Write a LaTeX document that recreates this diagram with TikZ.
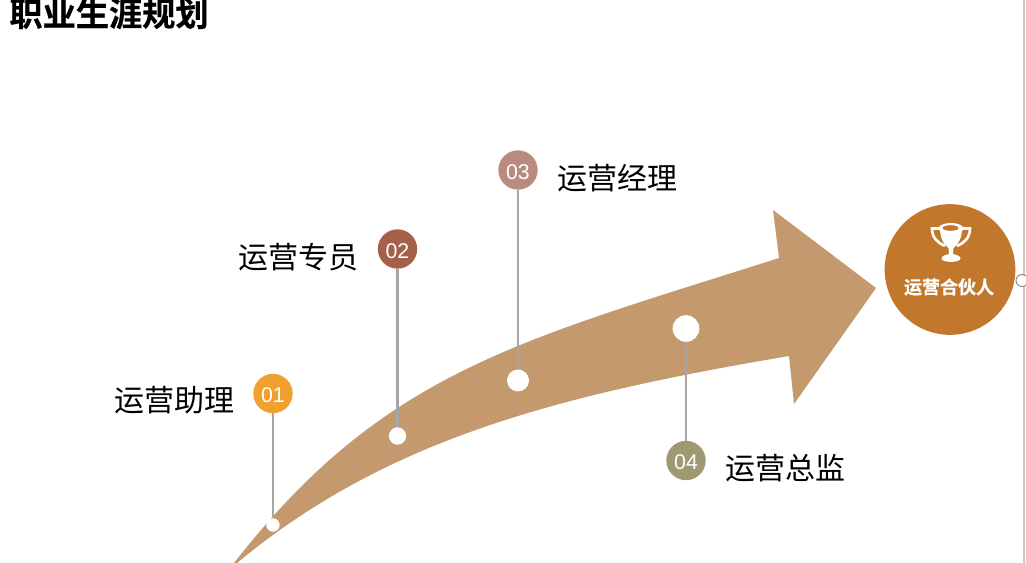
\documentclass[tikz,border=0pt]{standalone}
\usepackage{fontspec}
\setmainfont{Liberation Sans}
\newfontfamily\cjk{Noto Sans CJK SC}
\newfontfamily\cjkb[FakeBold=0.6]{Noto Sans CJK SC Bold}
\definecolor{arrowc}{HTML}{C3996D}
\definecolor{c1}{HTML}{F0A02E}
\definecolor{c2}{HTML}{A5604A}
\definecolor{c3}{HTML}{B98A7E}
\definecolor{c4}{HTML}{A09872}
\definecolor{c5}{HTML}{C1772C}
\definecolor{stem}{HTML}{A6A6A6}
\definecolor{edgec}{HTML}{C8C8C8}
\newcommand{\badgetext}[1]{\raisebox{-7.1pt}[0pt][0pt]{#1}}
\tikzset{
 badge/.style={circle,minimum size=29.5pt,inner sep=0pt,text=white,font=\fontsize{16}{16}\selectfont},
 dotw/.style={circle,fill=white,inner sep=0pt},
 stemline/.style={draw=stem,line width=1.6pt},
 lab/.style={inner sep=0pt,anchor=center,font=\cjk\fontsize{22.5}{22.5}\selectfont},
}
\begin{document}
\begin{tikzpicture}[x=0.75pt,y=-0.75pt]
\useasboundingbox (0,0) rectangle (1026,563);
\begin{scope}
\clip (0,0) rectangle (1026,563);
\fill[arrowc] (876,288) -- (773,210) -- (779,258)
 .. controls (519,341) and (384,371) .. (234,563)
 -- (237,563)
 .. controls (387,438.5) and (559,395) .. (789,356)
 -- (794,404) -- cycle;
\node[inner sep=0pt,font=\cjkb\fontsize{24.9}{24.9}\selectfont] (title) at (109,13.5) {职业生涯规划};
\end{scope}
\draw[edgec,line width=1pt] (1024,0) -- (1024,563);
\node[circle,draw=stem!80!black,fill=white,line width=0.7pt,minimum size=9pt,inner sep=0pt] (handle) at (1022,280.5) {};
\node[dotw,minimum size=10pt] (d1) at (273,525) {};
\node[dotw,minimum size=13pt] (d2) at (397.5,436) {};
\node[dotw,minimum size=16.5pt] (d3) at (518,380.5) {};
\node[dotw,minimum size=20pt] (d4) at (686,328.5) {};
\node[badge,fill=c1] (b1) at (273,393.5) {\badgetext{01}};
\node[badge,fill=c2] (b2) at (397.5,249) {\badgetext{02}};
\node[badge,fill=c3] (b3) at (518,170) {\badgetext{03}};
\node[badge,fill=c4] (b4) at (686,460.5) {\badgetext{04}};
\draw[stemline] (b1) -- (d1);
\draw[stemline] (b2) -- (d2);
\draw[stemline] (b3) -- (d3);
\draw[stemline] (b4) -- (d4);
\node[lab] (l1) at (174.5,400.5) {运营助理};
\node[lab] (l2) at (298,257.5) {运营专员};
\node[lab] (l3) at (617.5,178.5) {运营经理};
\node[lab] (l4) at (785.5,468.5) {运营总监};
\node[circle,fill=c5,minimum size=98pt,inner sep=0pt] (hub) at (950,269.5) {};
\node[inner sep=0pt,text=white,font=\cjkb\fontsize{13.5}{13.5}\selectfont] (hubt) at (949,287) {运营合伙人};
% trophy
\fill[white] (940,228) -- (962,228) .. controls (962,240) and (957,245) .. (953.5,248) -- (953,254)
 .. controls (957,255) and (960.5,256) .. (960.5,258.5) .. controls (960.5,263) and (941.5,263) .. (941.5,258.5)
 .. controls (941.5,256) and (945,255) .. (949,254) -- (948.5,248) .. controls (945,245) and (940,240) .. (940,228) -- cycle;
\draw[white,line width=2pt] (942,228.5) -- (932,228.5) .. controls (932,238) and (938,243) .. (945,246);
\draw[white,line width=2pt] (960,228.5) -- (970,228.5) .. controls (970,238) and (964,243) .. (957,246);
\fill[white] (951,228.5) ellipse (12.5 and 5.5);
\fill[c5] (950.5,228) ellipse (8 and 2.8);
\end{tikzpicture}
\end{document}
